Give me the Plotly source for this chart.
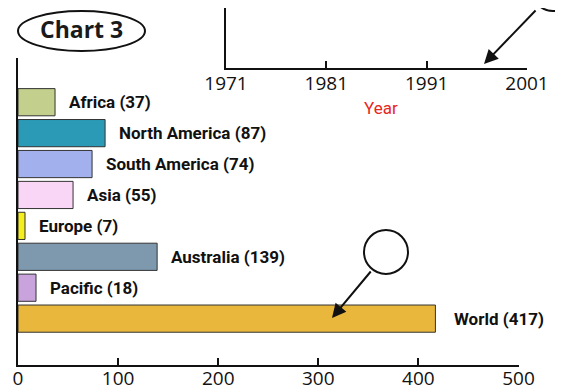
import plotly.graph_objects as go

# ---- data ----
regions = ["Africa", "North America", "South America", "Asia", "Europe", "Australia", "Pacific", "World"]
values = [37, 87, 74, 55, 7, 139, 18, 417]
colors = ["#c3cf8c", "#2b9ab6", "#a3b0ee", "#f9d6f6", "#f4ee1c", "#7e99ae", "#c9a3dc", "#e9b73b"]
x_ticks = [0, 100, 200, 300, 400, 500]
years = [1971, 1981, 1991, 2001]
chart_title = "Chart 3"
year_title = "Year"

W, H = 563, 390
OFF = 8  # page body margin of the browser


def px(x):
    return (x - OFF) / W


def py(y):
    return 1 - (y - OFF) / H


LABEL_FONT = "Roboto, DejaVu Sans Condensed, sans-serif"
TICK_FONT = "Open Sans, Liberation Sans, sans-serif"

fig = go.Figure()

fig.add_trace(go.Bar(
    y=regions, x=values, orientation="h",
    marker=dict(color=colors, line=dict(color="#333333", width=1)),
    width=0.88, xaxis="x", yaxis="y", showlegend=False, hoverinfo="skip",
))

# empty trace for the top (year) axes
fig.add_trace(go.Scatter(x=[], y=[], xaxis="x2", yaxis="y2", showlegend=False))

annotations = []
for r, v in zip(regions, values):
    annotations.append(dict(
        x=v, y=r, xref="x", yref="y", xanchor="left", yanchor="middle",
        xshift=12 if r != "World" else 17, showarrow=False,
        text=f"<b>{r} ({v})</b>",
        font=dict(family=LABEL_FONT, size=17, color="#111111", weight=900),
    ))

# title text in ellipse
annotations.append(dict(
    x=px(81), y=py(29), xref="paper", yref="paper", showarrow=False,
    text=f"<b>{chart_title}</b>", font=dict(family="Open Sans, sans-serif", size=23, color="#1a1a1a"),
    xanchor="center", yanchor="middle",
))
# Year title
annotations.append(dict(
    x=px(381), y=py(108), xref="paper", yref="paper", showarrow=False,
    text=year_title, font=dict(family=LABEL_FONT, size=17, color="#e8261c"),
    xanchor="center", yanchor="middle",
))
# arrows
annotations.append(dict(
    x=px(484), y=py(64), xref="paper", yref="paper", ax=537 - 484, ay=9 - 64,
    axref="pixel", ayref="pixel", showarrow=True, arrowhead=2, arrowsize=1.4,
    arrowwidth=2, arrowcolor="#111111", text="",
))
annotations.append(dict(
    x=px(332), y=py(318), xref="paper", yref="paper", ax=372 - 332, ay=270 - 318,
    axref="pixel", ayref="pixel", showarrow=True, arrowhead=2, arrowsize=1.4,
    arrowwidth=2, arrowcolor="#111111", text="",
))

shapes = [
    dict(type="circle", xref="paper", yref="paper", x0=px(18), x1=px(145), y0=py(51), y1=py(11),
         line=dict(color="#111111", width=2), fillcolor="rgba(0,0,0,0)"),
    dict(type="circle", xref="paper", yref="paper", x0=px(364), x1=px(408), y0=py(274), y1=py(230),
         line=dict(color="#111111", width=2), fillcolor="white"),
    dict(type="circle", xref="paper", yref="paper", x0=px(532), x1=px(574), y0=py(11), y1=py(-31),
         line=dict(color="#111111", width=2), fillcolor="white"),
]

fig.update_layout(
    width=W, height=H, margin=dict(l=0, r=0, t=0, b=0, autoexpand=False),
    paper_bgcolor="white", plot_bgcolor="white",
    bargap=0.1,
    xaxis=dict(
        domain=[px(18), px(518.5)], range=[0, 500], tickvals=x_ticks,
        ticks="inside", ticklen=7, tickwidth=2, tickcolor="#111111",
        showline=True, linecolor="#111111", linewidth=2, showgrid=False, zeroline=False,
        tickfont=dict(family=TICK_FONT, size=19, color="#111111"), anchor="y", fixedrange=True,
        automargin=False, ticklabelstandoff=-5,
    ),
    yaxis=dict(
        domain=[py(365), py(58)], type="category", categoryorder="array", categoryarray=regions,
        range=[8.5, -1.43], showticklabels=False, ticks="",
        showline=True, linecolor="#111111", linewidth=2, showgrid=False, zeroline=False, anchor="x",
        automargin=False,
    ),
    xaxis2=dict(
        domain=[px(226), px(527)], range=[1971, 2001], tickvals=years,
        ticks="inside", ticklen=7, tickwidth=2, tickcolor="#111111",
        showline=True, linecolor="#111111", linewidth=2, showgrid=False, zeroline=False,
        tickfont=dict(family=TICK_FONT, size=19, color="#111111"), anchor="y2",
        automargin=False, ticklabelstandoff=-3,
    ),
    yaxis2=dict(
        domain=[py(68), 1.0], range=[0, 1], showticklabels=False, ticks="",
        showline=True, linecolor="#111111", linewidth=2, showgrid=False, zeroline=False, anchor="x2",
        automargin=False,
    ),
    annotations=annotations,
    shapes=shapes,
)

fig.write_html("out.html")
